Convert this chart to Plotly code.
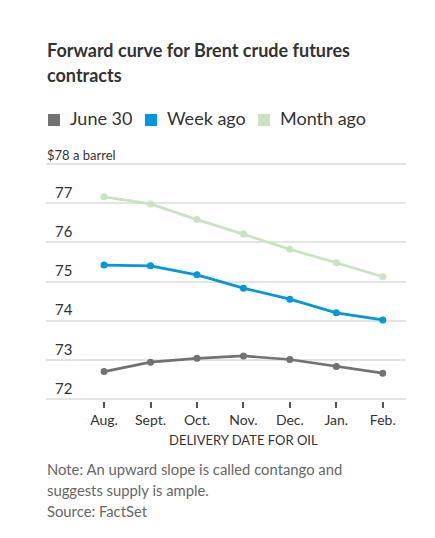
import plotly.graph_objects as go

months = ["Aug.", "Sept.", "Oct.", "Nov.", "Dec.", "Jan.", "Feb."]
june30 = [72.70, 72.94, 73.04, 73.10, 73.01, 72.83, 72.66]
week_ago = [75.42, 75.40, 75.17, 74.83, 74.55, 74.20, 74.02]
month_ago = [77.16, 76.98, 76.58, 76.21, 75.82, 75.48, 75.12]
series_names = ["June 30", "Week ago", "Month ago"]
series_colors = ["#727272", "#0098da", "#c8e3c0"]
y_ticks = [72, 73, 74, 75, 76, 77, 78]
y_ticktext = ["72", "73", "74", "75", "76", "77", ""]

# the page body has an 8px default margin; compensate
OFF = 8
W, H = 435 - OFF, 538 - OFF
PL, PR, PT, PB = 46, 406, 162, 401          # plot area in page pixels
L, T = PL - OFF, PT - OFF
R = W - (PR - OFF)
B = H - (PB - OFF)

fig = go.Figure()
order = [2, 1, 0]
all_vals = [june30, week_ago, month_ago]
for i in order:
    fig.add_trace(go.Scatter(
        x=list(range(len(months))), y=all_vals[i], mode="lines+markers", name=series_names[i],
        line=dict(color=series_colors[i], width=2.7), marker=dict(color=series_colors[i], size=7),
        showlegend=False, hoverinfo="skip"))

fig.update_layout(
    width=W, height=H, margin=dict(l=L, r=R, t=T, b=B, autoexpand=False),
    paper_bgcolor="white", plot_bgcolor="white",
    font=dict(family="Lato, Noto Sans, sans-serif", color="#333333"),
    xaxis=dict(range=[-1.25, 6.5], tickvals=list(range(len(months))), ticktext=months,
               showgrid=False, zeroline=False, showline=False,
               ticks="outside", ticklen=6, tickwidth=2, tickcolor="#555555",
               ticklabelstandoff=0,
               tickfont=dict(size=14, color="#333333")),
    yaxis=dict(range=[71.95, 78.05], tickvals=y_ticks, ticktext=y_ticktext,
               showgrid=True, gridcolor="#e4e4e4", gridwidth=2, zeroline=False,
               showline=False, ticks="", ticklabelposition="inside top",
               ticklabelstandoff=6,
               tickfont=dict(size=15, color="#333333")),
)

def px_ann(text, x, y, size, color="#333333", xanchor="left", family=None):
    """x, y: page pixel position of the text's left (or center) and baseline."""
    f = dict(size=size, color=color)
    if family:
        f["family"] = family
    return dict(text=text, xref="paper", yref="paper",
                x=(x - OFF - L) / (W - L - R), y=(H - B - (y - OFF)) / (H - T - B),
                xanchor=xanchor, yanchor="bottom", showarrow=False, font=f,
                yshift=-size * 0.25, xshift=-1 if xanchor == "left" else 0)

ann = []
ann.append(px_ann("<b>Forward curve for Brent crude futures</b>", 46, 59, 18))
ann.append(px_ann("<b>contracts</b>", 46, 83, 18))
ann.append(px_ann("$78 a barrel", 46, 162, 13))
ann.append(px_ann("DELIVERY DATE FOR OIL", 243, 447, 13, xanchor="center"))
notes = ["Note: An upward slope is called contango and", "suggests supply is ample.", "Source: FactSet"]
for i, t in enumerate(notes):
    ann.append(px_ann(t, 46, 476 + 21 * i, 14.8, color="#666666"))

# legend
leg_sq_x = [48, 145, 258]
shapes = []
for name, col, sx in zip(series_names, series_colors, leg_sq_x):
    y0p, y1p = 126, 114
    shapes.append(dict(type="rect", xref="paper", yref="paper",
                       x0=(sx - OFF - L) / (W - L - R), x1=(sx + 12 - OFF - L) / (W - L - R),
                       y0=(H - B - (y0p - OFF)) / (H - T - B), y1=(H - B - (y1p - OFF)) / (H - T - B),
                       fillcolor=col, line=dict(width=0)))
    ann.append(px_ann(name, sx + 21, 126, 18))

fig.update_layout(annotations=ann, shapes=shapes)
fig.write_html("out.html")
